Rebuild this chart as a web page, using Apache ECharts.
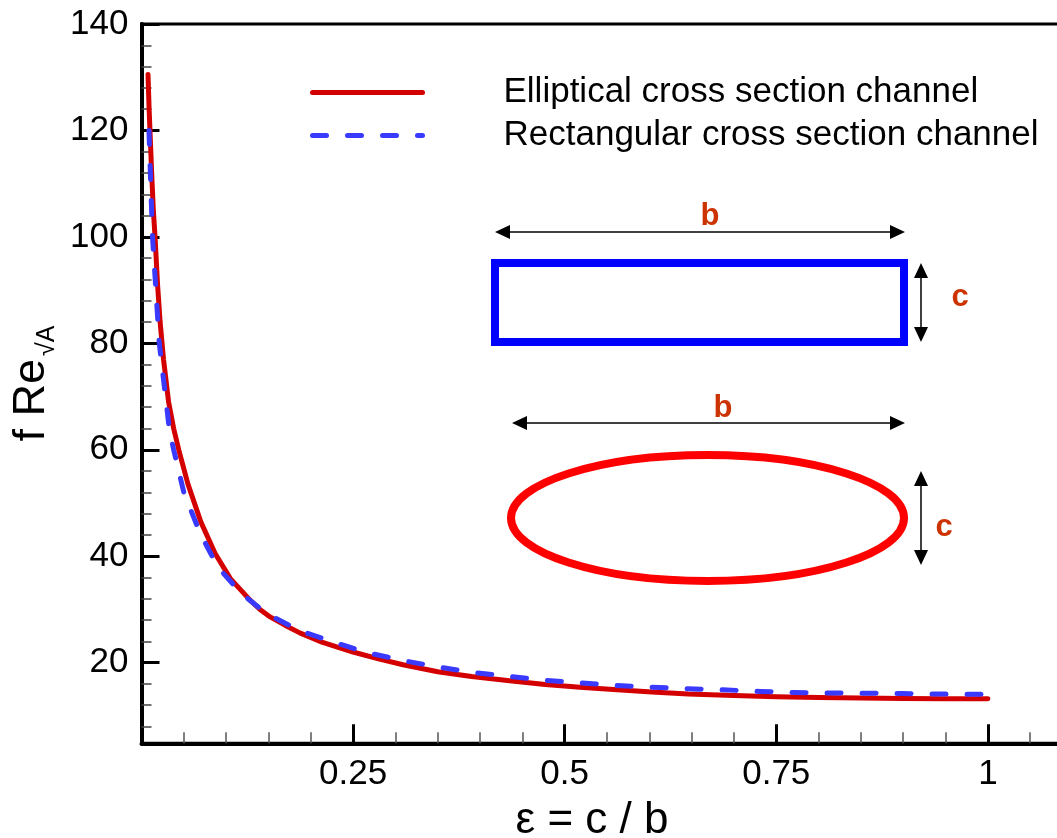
<!DOCTYPE html>
<html>
<head>
<meta charset="utf-8">
<script src="https://cdn.jsdelivr.net/npm/echarts@6/dist/echarts.min.js"></script>
<style>
html,body{margin:0;padding:0;background:#fff;}
#chart{width:1057px;height:838px;}
</style>
</head>
<body>
<div id="chart"></div>
<script>
// ---- data ----
const epsEllipse = [0.0077, 0.009, 0.010, 0.012, 0.014, 0.016, 0.019, 0.022, 0.026, 0.032, 0.038, 0.044, 0.055, 0.07, 0.087, 0.105, 0.128, 0.14, 0.152, 0.17, 0.187, 0.214, 0.25, 0.28, 0.309, 0.35, 0.39, 0.435, 0.477, 0.518, 0.562, 0.603, 0.646, 0.7, 0.75, 0.8, 0.85, 0.9, 0.95, 1.0];
const fReEllipse = [130.5, 124, 120, 112, 105, 100, 91, 84, 77, 69, 64, 60, 53.5, 46.5, 40.5, 35.8, 31.8, 30.0, 28.6, 27.0, 25.6, 23.8, 22.0, 20.7, 19.6, 18.3, 17.4, 16.6, 15.9, 15.4, 14.9, 14.5, 14.1, 13.85, 13.6, 13.45, 13.35, 13.28, 13.22, 13.2];

const epsRect = [0.0088, 0.013, 0.021, 0.033, 0.038, 0.05, 0.069, 0.09, 0.118, 0.148, 0.187, 0.226, 0.266, 0.309, 0.35, 0.39, 0.435, 0.477, 0.518, 0.562, 0.603, 0.646, 0.687, 0.731, 0.772, 0.814, 0.857, 0.899, 0.941, 1.0];
const fReRect = [120, 100, 80, 63.7, 60, 52, 44.4, 38, 33, 29.2, 26.0, 23.9, 21.9, 20.4, 19.2, 18.2, 17.4, 16.7, 16.2, 15.7, 15.4, 15.1, 14.9, 14.6, 14.4, 14.3, 14.25, 14.2, 14.1, 14.05];

const seriesNames = ['Elliptical cross section channel', 'Rectangular cross section channel'];

const xMajorTicks = [0.25, 0.5, 0.75, 1];
const xMinorTicks = [0.05, 0.1, 0.15, 0.2, 0.3, 0.35, 0.4, 0.45, 0.55, 0.6, 0.65, 0.7, 0.8, 0.85, 0.9, 0.95, 1.05];
const yMajorTicks = [20, 40, 60, 80, 100, 120, 140];
const yMinorTicks = [8, 12, 16, 24, 28, 32, 36, 44, 48, 52, 56, 64, 68, 72, 76, 84, 88, 92, 96, 104, 108, 112, 116, 124, 128, 132, 136];

// ---- chart ----
const FONT = 'Liberation Sans, Arial, sans-serif';
const chart = echarts.init(document.getElementById('chart'), null, {renderer: 'canvas'});

function hArrow(x1, x2, y) {
  const L = 15, W = 7;
  return [
    {type: 'line', shape: {x1: x1 + L - 2, y1: y, x2: x2 - L + 2, y2: y}, style: {stroke: '#000', lineWidth: 1.5}},
    {type: 'polygon', shape: {points: [[x1, y], [x1 + L, y - W], [x1 + L, y + W]]}, style: {fill: '#000'}},
    {type: 'polygon', shape: {points: [[x2, y], [x2 - L, y - W], [x2 - L, y + W]]}, style: {fill: '#000'}}
  ];
}
function vArrow(x, y1, y2) {
  const L = 15, W = 7;
  return [
    {type: 'line', shape: {x1: x, y1: y1 + L - 2, x2: x, y2: y2 - L + 2}, style: {stroke: '#000', lineWidth: 1.5}},
    {type: 'polygon', shape: {points: [[x, y1], [x - W, y1 + L], [x + W, y1 + L]]}, style: {fill: '#000'}},
    {type: 'polygon', shape: {points: [[x, y2], [x - W, y2 - L], [x + W, y2 - L]]}, style: {fill: '#000'}}
  ];
}
function label(t, x, y) {
  return {type: 'text', x: x, y: y, style: {text: t, fill: '#cc3300', font: 'bold 31px ' + FONT, align: 'center', verticalAlign: 'middle'}};
}

const graphics = [].concat(
  [{type: 'rect', shape: {x: 495, y: 263, width: 409, height: 79}, style: {fill: 'none', stroke: '#0000ff', lineWidth: 8}}],
  hArrow(495, 905, 232),
  vArrow(921, 263, 342),
  [label('b', 710, 216), label('c', 960, 297)],
  [{type: 'ellipse', shape: {cx: 707.5, cy: 518, rx: 196.5, ry: 63}, style: {fill: 'none', stroke: '#ff0000', lineWidth: 8}}],
  hArrow(512, 905, 423),
  vArrow(921, 471, 565),
  [label('b', 723, 408), label('c', 944, 527)]
);

const option = {
  animation: false,
  backgroundColor: '#fff',
  grid: {left: 141.5, top: 24, right: -15.5, bottom: 94.7, show: true, borderColor: '#000', borderWidth: 3,
         backgroundColor: 'transparent', containLabel: false, outerBoundsMode: 'none'},
  legend: {
    data: seriesNames,
    orient: 'vertical',
    left: 305, top: 70,
    itemWidth: 110, itemHeight: 14, itemGap: 8,
    itemStyle: {opacity: 0},
    lineStyle: {width: 5, cap: 'round'},
    textStyle: {fontSize: 35, color: '#000', fontFamily: FONT, padding: [0, 0, 0, 76], lineHeight: 35},
    selectedMode: false
  },
  xAxis: [
    {
      type: 'value', min: 0, max: 1.1, position: 'bottom',
      axisLine: {show: true, onZero: false, lineStyle: {color: '#000', width: 4}},
      axisTick: {show: true, inside: true, length: 19, lineStyle: {color: '#000', width: 3}, customValues: xMajorTicks},
      axisLabel: {show: true, customValues: xMajorTicks, fontSize: 35, color: '#000', fontFamily: FONT, margin: 14},
      splitLine: {show: false},
      name: 'ε = c / b', nameLocation: 'middle', nameGap: 56,
      nameTextStyle: {fontSize: 44, color: '#000', fontFamily: FONT, padding: [0, 30, 0, 0]}
    },
    {
      type: 'value', min: 0, max: 1.1, position: 'bottom',
      axisLine: {show: false},
      axisTick: {show: true, inside: true, length: 11, lineStyle: {color: '#555', width: 1.5}, customValues: xMinorTicks},
      axisLabel: {show: false},
      splitLine: {show: false}
    }
  ],
  yAxis: [
    {
      type: 'value', min: 4.85, max: 140, position: 'left',
      axisLine: {show: true, onZero: false, lineStyle: {color: '#000', width: 4}},
      axisTick: {show: true, inside: true, length: 18, lineStyle: {color: '#000', width: 3}, customValues: yMajorTicks},
      axisLabel: {show: true, customValues: yMajorTicks, fontSize: 35, color: '#000', fontFamily: FONT, margin: 13},
      splitLine: {show: false},
      name: '{m|f Re}{s|√A}', nameLocation: 'middle', nameGap: 86, nameRotate: 90,
      nameTextStyle: {
        color: '#000', fontFamily: FONT,
        rich: {
          m: {fontSize: 45, lineHeight: 45, verticalAlign: 'top', color: '#000', fontFamily: FONT},
          s: {fontSize: 25, lineHeight: 25, verticalAlign: 'top', padding: [25, 0, 0, 3], color: '#000', fontFamily: FONT}
        }
      }
    },
    {
      type: 'value', min: 4.85, max: 140, position: 'left', offset: 0,
      axisLine: {show: false},
      axisTick: {show: true, inside: true, length: 10, lineStyle: {color: '#444', width: 1.5}, customValues: yMinorTicks},
      axisLabel: {show: false},
      splitLine: {show: false}
    }
  ],
  series: [
    {
      name: seriesNames[0], type: 'line', xAxisIndex: 0, yAxisIndex: 0,
      data: epsEllipse.map((e, i) => [e, fReEllipse[i]]),
      showSymbol: false, symbol: 'none', smooth: false,
      lineStyle: {color: '#d40000', width: 5, cap: 'round', join: 'round'},
      itemStyle: {color: '#d40000'}, z: 3
    },
    {
      name: seriesNames[1], type: 'line', xAxisIndex: 0, yAxisIndex: 0,
      data: epsRect.map((e, i) => [e, fReRect[i]]),
      showSymbol: false, symbol: 'none', smooth: false,
      lineStyle: {color: '#3a3aff', width: 5, type: [14, 21], cap: 'round', join: 'round'},
      itemStyle: {color: '#3a3aff'}, z: 4
    }
  ],
  graphic: graphics
};
chart.setOption(option);
</script>
</body>
</html>
